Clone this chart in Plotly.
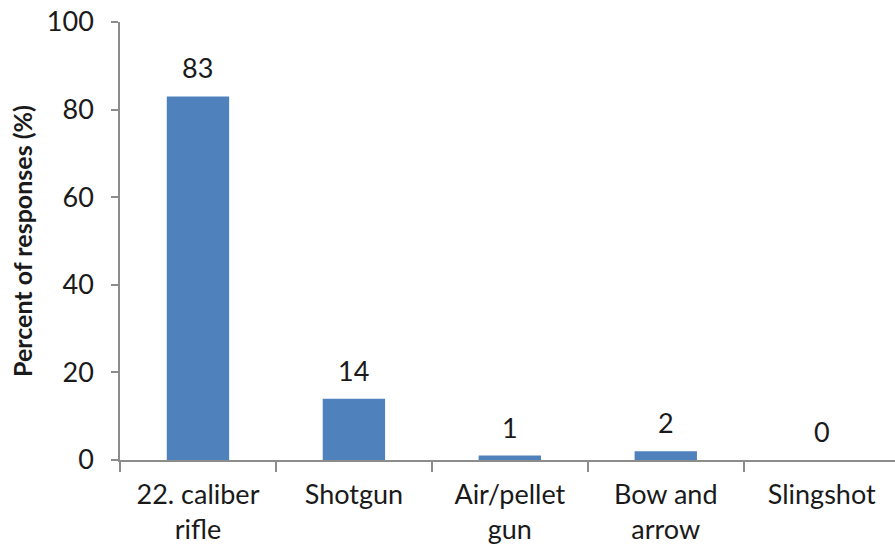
import plotly.graph_objects as go

categories = ["22. caliber<br>rifle", "Shotgun", "Air/pellet<br>gun", "Bow and<br>arrow", "Slingshot"]
values = [83, 14, 1, 2, 0]
y_ticks = [0, 20, 40, 60, 80, 100]

font_family = "Lato, Open Sans, sans-serif"
axis_color = "#8c8c8c"
text_color = "#1a1a1a"

fig = go.Figure(go.Bar(
    x=categories,
    y=values,
    marker=dict(color="#4f81bd", line=dict(width=0)),
    width=0.4,
))

for c, v in zip(categories, values):
    fig.add_annotation(
        x=c, y=v, text=str(v), showarrow=False,
        yanchor="bottom", yshift=10,
        font=dict(family=font_family, size=27, color=text_color),
    )

fig.update_layout(
    width=895,
    height=548,
    margin=dict(l=120, r=0, t=22, b=88),
    paper_bgcolor="white",
    plot_bgcolor="white",
    showlegend=False,
    font=dict(family=font_family, color=text_color),
)

fig.update_xaxes(
    range=[-0.5, 4.47],
    automargin=False,
    showline=True,
    linecolor=axis_color,
    linewidth=1.5,
    ticks="outside",
    tickson="boundaries",
    ticklen=10,
    tickcolor=axis_color,
    tickwidth=1.5,
    ticklabelstandoff=10,
    ticklabeloverflow="allow",
    tickfont=dict(family=font_family, size=27, color=text_color),
    showgrid=False,
)

fig.update_yaxes(
    range=[0, 100],
    automargin=False,
    tickvals=y_ticks,
    showline=True,
    linecolor=axis_color,
    linewidth=1.5,
    ticks="outside",
    ticklen=7,
    tickcolor=axis_color,
    tickwidth=1.5,
    ticklabelstandoff=12,
    ticklabeloverflow="allow",
    tickfont=dict(family=font_family, size=27, color=text_color),
    showgrid=False,
    zeroline=False,
    title=dict(text="<b>Percent of responses (%)</b>", font=dict(family=font_family, size=25, color=text_color), standoff=7),
)

fig.write_html(
    "out.html",
    config={"displayModeBar": False},
    post_script="document.body.style.margin='0';document.body.style.overflow='hidden';",
)
